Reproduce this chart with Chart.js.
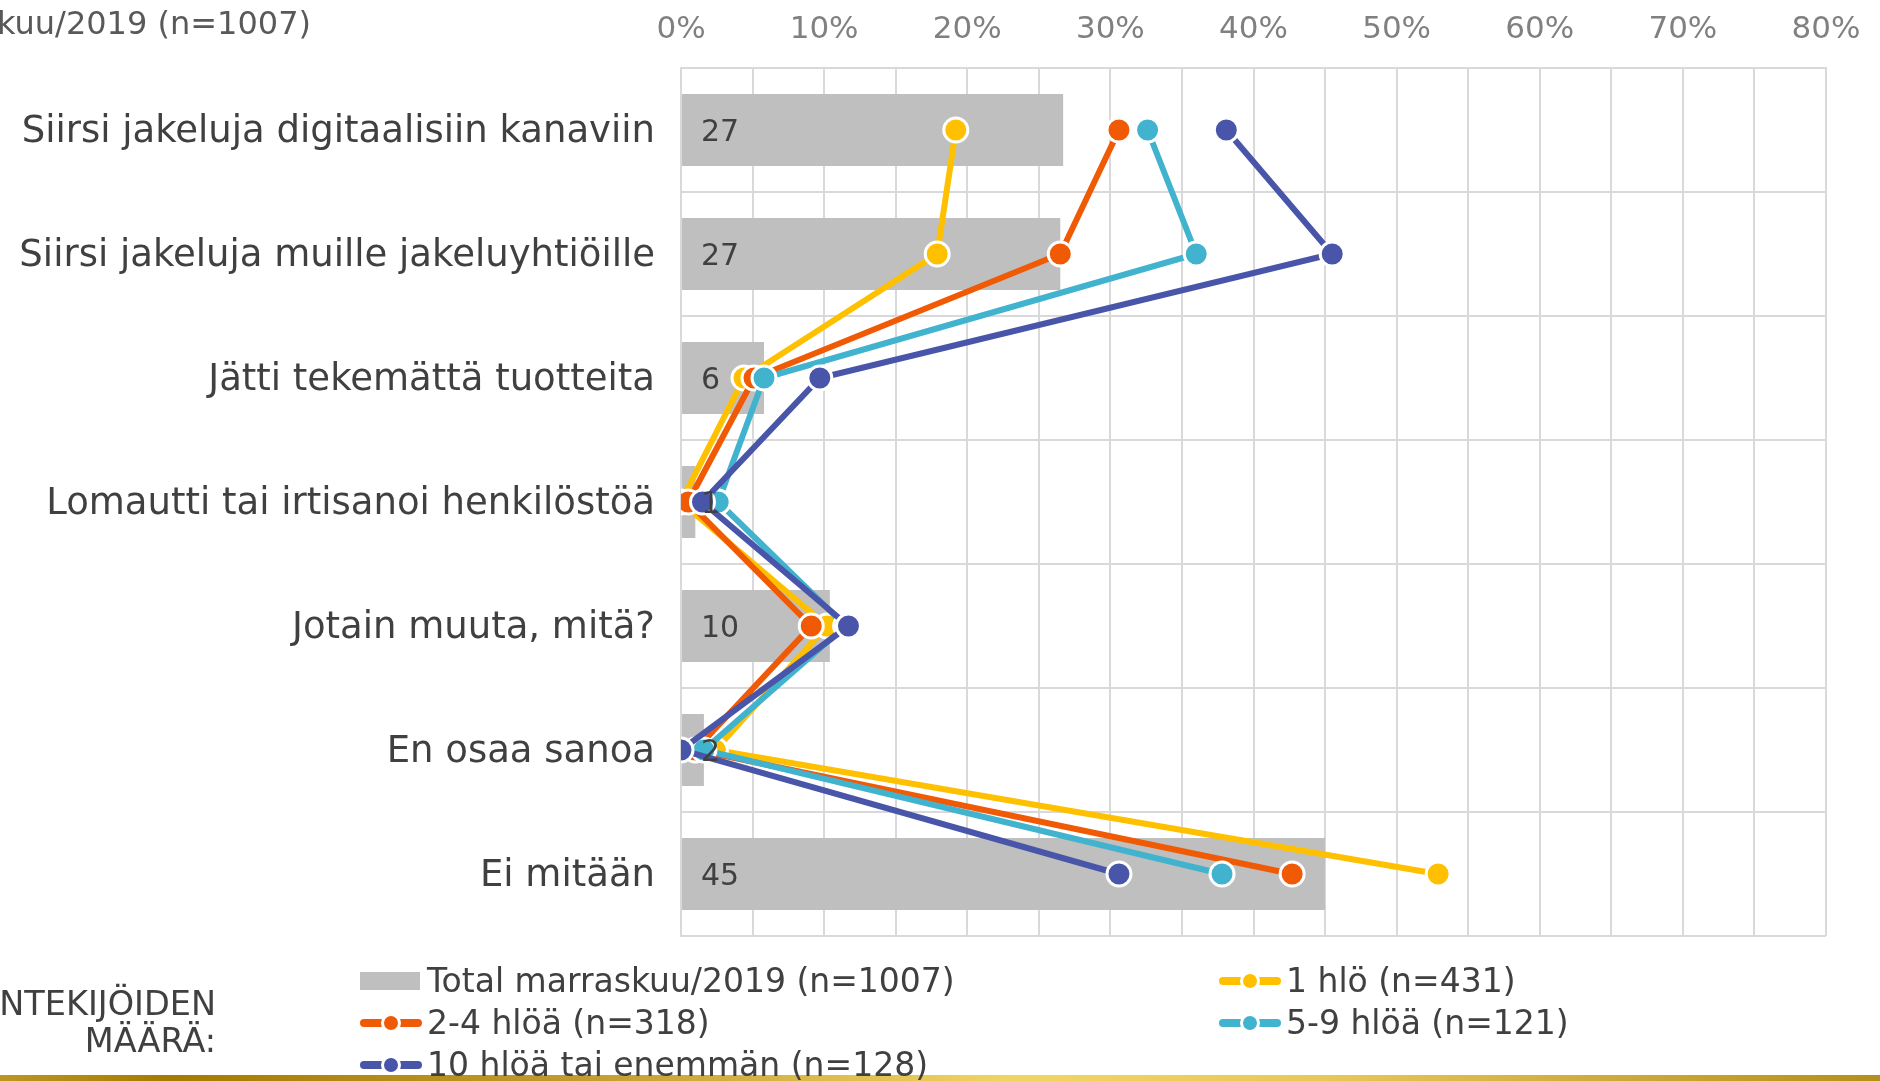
<!DOCTYPE html>
<html>
<head>
<meta charset="utf-8">
<script src="https://cdn.jsdelivr.net/npm/chart.js@4.4.0/dist/chart.umd.min.js"></script>
<style>
  body { margin: 0; background: #fff; overflow: hidden; font-family: 'DejaVu Sans', sans-serif; }
  #wrap { position: relative; width: 1880px; height: 1081px; overflow: hidden; background: #fff; }
  #statusChart { position: absolute; left: 0; top: 0; }
  .title { position: absolute; right: 1569px; top: 5px; font-size: 32px; line-height: 36px; color: #595959; white-space: nowrap; }
  .group { position: absolute; right: 1664px; top: 985px; font-size: 33.5px; line-height: 37px; color: #404040; text-align: right; white-space: nowrap; }
  .goldbar { position: absolute; left: 0; top: 1075px; width: 1880px; height: 6px;
    background: linear-gradient(to right, #bd9620 0%, #a67a00 9%, #c19a2a 30%, #f1d562 54%, #e9c956 70%, #b58f1c 100%); }
  .legend-item { position: absolute; height: 36px; white-space: nowrap; font-size: 33px; line-height: 36px; color: #404040; }
  .legend-item .mark { position: absolute; left: 0; top: 9px; width: 62px; height: 18px; }
  .legend-item .text { position: absolute; left: 67px; top: 0; }
  .mark .box { position: absolute; left: 0; top: 0; width: 60px; height: 18px; }
  .mark .seg { position: absolute; top: 5px; width: 62px; height: 8px; border-radius: 4px; left: 0; }
  .mark .dot { position: absolute; left: 21px; top: -1px; width: 20px; height: 20px; border-radius: 50%; box-sizing: border-box; border: 3px solid #fff; }
</style>
</head>
<body>
<div id="wrap">
  <canvas id="statusChart" width="1880" height="1081"></canvas>
  <div class="title">Total marraskuu/2019 (n=1007)</div>
  <div class="group">TYÖNTEKIJÖIDEN<br>MÄÄRÄ:</div>
  <div class="goldbar"></div>
  <div id="legend"></div>
</div>
<script>
// DATA
const categories = [
    "Siirsi jakeluja digitaalisiin kanaviin",
    "Siirsi jakeluja muille jakeluyhtiöille",
    "Jätti tekemättä tuotteita",
    "Lomautti tai irtisanoi henkilöstöä",
    "Jotain muuta, mitä?",
    "En osaa sanoa",
    "Ei mitään"
];
const seriesNames = [
    "Total marraskuu/2019 (n=1007)",
    "1 hlö (n=431)",
    "2-4 hlöä (n=318)",
    "5-9 hlöä (n=121)",
    "10 hlöä tai enemmän (n=128)"
];
const totalValues      = [26.7, 26.5, 5.8, 1.0, 10.4, 1.6, 45.0];
const oneValues        = [19.2, 17.9, 4.4, 0.0, 10.2, 2.4, 52.9];
const twoToFourValues  = [30.6, 26.5, 5.1, 0.5, 9.1, 1.0, 42.7];
const fiveToNineValues = [32.6, 36.0, 5.8, 2.6, 11.5, 1.6, 37.8];
const tenPlusValues    = [38.1, 45.5, 9.7, 1.5, 11.7, 0.0, 30.6];
const xMin = 0, xMax = 80, xStep = 5, xLabelStep = 10;

const colors = ["#bfbfbf", "#ffc000", "#f05a05", "#41b3ce", "#4855a8"];

Chart.defaults.font.family = "'DejaVu Sans', sans-serif";

function lineSet(i, values, order) {
    return {
        type: "line",
        label: seriesNames[i],
        data: values,
        indexAxis: "y",
        order: order,
        borderColor: colors[i],
        backgroundColor: colors[i],
        borderWidth: 6,
        pointRadius: 12,
        pointBorderWidth: 3,
        pointBorderColor: "#ffffff",
        pointBackgroundColor: colors[i],
        tension: 0,
        fill: false
    };
}

// bar value labels, drawn on top like in the original
const barLabels = {
    id: "barLabels",
    afterDatasetsDraw(chart) {
        const ctx = chart.ctx;
        const meta = chart.getDatasetMeta(0);
        const x0 = chart.scales.x.getPixelForValue(0);
        ctx.save();
        ctx.font = "30px 'DejaVu Sans', sans-serif";
        ctx.fillStyle = "#404040";
        ctx.textAlign = "left";
        ctx.textBaseline = "middle";
        meta.data.forEach((bar, i) => {
            ctx.fillText(String(Math.round(totalValues[i])), x0 + 20, bar.y + 3);
        });
        ctx.restore();
    }
};

const ctx = document.getElementById("statusChart");

const chart = new Chart(ctx, {
    type: "bar",
    data: {
        labels: categories,
        datasets: [
            {
                type: "bar",
                label: seriesNames[0],
                data: totalValues,
                indexAxis: "y",
                order: 5,
                backgroundColor: colors[0],
                borderWidth: 0,
                barPercentage: 0.58,
                categoryPercentage: 1.0
            },
            lineSet(1, oneValues, 4),
            lineSet(2, twoToFourValues, 3),
            lineSet(3, fiveToNineValues, 2),
            lineSet(4, tenPlusValues, 1)
        ]
    },
    options: {
        indexAxis: "y",
        responsive: false,
        animation: false,
        devicePixelRatio: 1,
        layout: { padding: { left: 0, top: 0, right: 54, bottom: 145 } },
        plugins: {
            legend: { display: false },
            tooltip: { enabled: false }
        },
        scales: {
            x: {
                type: "linear",
                position: "top",
                min: xMin,
                max: xMax,
                afterFit(scale) { scale.height = 68; },
                ticks: {
                    stepSize: xStep,
                    autoSkip: false,
                    maxRotation: 0,
                    padding: 19,
                    color: "#808080",
                    font: { size: 31 },
                    callback: v => (v % xLabelStep === 0 ? v + "%" : "")
                },
                grid: { color: "#d9d9d9", lineWidth: 2, drawTicks: false },
                border: { color: "#d9d9d9", width: 2 }
            },
            y: {
                type: "category",
                offset: true,
                afterFit(scale) { scale.width = 681; },
                ticks: {
                    padding: 26,
                    labelOffset: 2,
                    color: "#404040",
                    font: { size: 37 }
                },
                grid: { color: "#d9d9d9", lineWidth: 2, drawTicks: false, offset: true },
                border: { color: "#d9d9d9", width: 2 }
            }
        }
    },
    plugins: [barLabels]
});

// LEGEND (two columns, as in the original)
const legendBox = document.getElementById("legend");
const colX = [360, 1219];
const rowY = [981, 1023, 1065];
chart.data.datasets.forEach((ds, i) => {
    const item = document.createElement("div");
    item.className = "legend-item";
    item.style.left = colX[i % 2] + "px";
    item.style.top = (rowY[Math.floor(i / 2)] - 18) + "px";
    const mark = document.createElement("div");
    mark.className = "mark";
    if (ds.type === "bar") {
        mark.innerHTML = '<div class="box" style="background:' + ds.backgroundColor + '"></div>';
    } else {
        mark.innerHTML = '<div class="seg" style="background:' + ds.borderColor + '"></div>' +
            '<div class="dot" style="background:' + ds.borderColor + '"></div>';
    }
    const text = document.createElement("div");
    text.className = "text";
    text.textContent = ds.label;
    item.appendChild(mark);
    item.appendChild(text);
    legendBox.appendChild(item);
});
</script>
</body>
</html>
